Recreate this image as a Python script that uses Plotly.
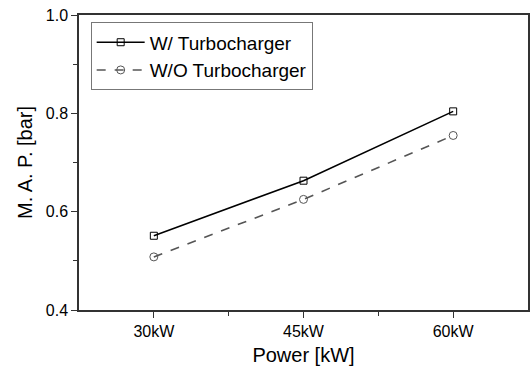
import plotly.graph_objects as go

power_kw = [30, 45, 60]
tick_labels = ["30kW", "45kW", "60kW"]
map_with_turbo = [0.551, 0.663, 0.804]
map_without_turbo = [0.508, 0.625, 0.755]

fig = go.Figure()
fig.add_trace(go.Scatter(
    x=power_kw, y=map_with_turbo, name="W/ Turbocharger",
    mode="lines+markers",
    line=dict(color="black", width=1.6),
    marker=dict(symbol="square-open", size=7, color="black", line=dict(width=1)),
))
fig.add_trace(go.Scatter(
    x=power_kw, y=map_without_turbo, name="W/O Turbocharger",
    mode="lines+markers",
    line=dict(color="#555555", width=1.6, dash="dash"),
    marker=dict(symbol="circle-open", size=8, color="#555555", line=dict(width=1)),
))

font_family = "Liberation Sans, Arial, sans-serif"
fig.update_layout(
    width=532, height=366,
    margin=dict(l=79, r=2, t=15, b=53),
    paper_bgcolor="white", plot_bgcolor="white",
    font=dict(family=font_family, color="black"),
    showlegend=True,
    legend=dict(
        x=0.026, y=0.975, xanchor="left", yanchor="top",
        bordercolor="#777777", borderwidth=1, bgcolor="white",
        font=dict(size=19, family=font_family),
        itemwidth=48, tracegroupgap=0,
    ),
    xaxis=dict(
        range=[22.5, 67.5],
        tickmode="array", tickvals=power_kw, ticktext=tick_labels,
        ticks="outside", ticklen=6, tickcolor="#333333",
        showline=True, linecolor="#333333", linewidth=1.5, mirror=True,
        showgrid=False, zeroline=False,
        tickfont=dict(size=16),
        title=dict(text="Power [kW]", font=dict(size=20), standoff=10),
        minor=dict(tickmode="array", tickvals=[37.5, 52.5], ticks="outside",
                   ticklen=4, tickcolor="#333333", showgrid=False),
    ),
    yaxis=dict(
        range=[0.4, 1.0],
        tickmode="array", tickvals=[0.4, 0.6, 0.8, 1.0],
        ticktext=["0.4", "0.6", "0.8", "1.0"],
        ticks="outside", ticklen=6, tickcolor="#333333",
        showline=True, linecolor="#333333", linewidth=1.5, mirror=True,
        showgrid=False, zeroline=False,
        tickfont=dict(size=16),
        title=dict(text="M. A. P. [bar]", font=dict(size=20), standoff=8),
        minor=dict(tickmode="array", tickvals=[0.5, 0.7, 0.9], ticks="outside",
                   ticklen=4, tickcolor="#333333", showgrid=False),
    ),
)

fig.write_html("out.html")
